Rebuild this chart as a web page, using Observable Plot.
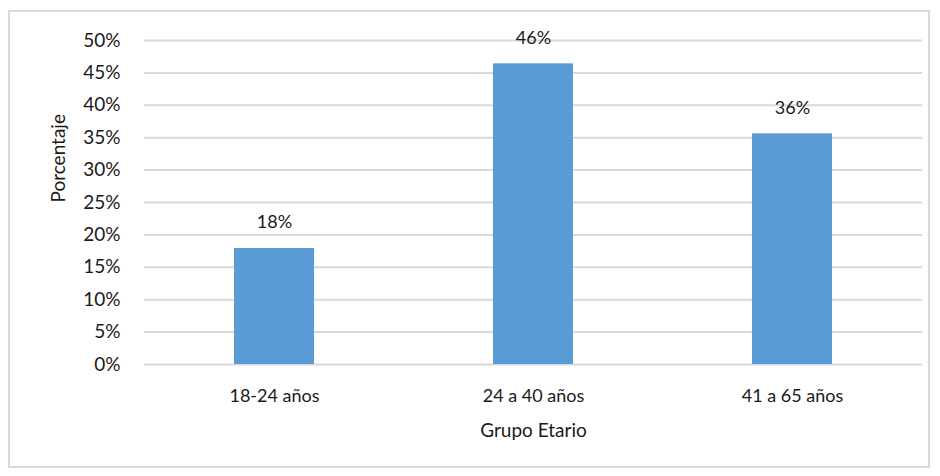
<!DOCTYPE html>
<html>
<head>
<meta charset="utf-8">
<script src="https://cdn.jsdelivr.net/npm/d3@7"></script>
<script src="https://cdn.jsdelivr.net/npm/@observablehq/plot@0.6"></script>
<style>
  html, body { margin: 0; padding: 0; background: #fff; }
  #wrap { position: relative; width: 940px; height: 476px; }
  #border { position: absolute; left: 8px; top: 10px; width: 922px; height: 458px; border: 2px solid #d9d9d9; box-sizing: border-box; pointer-events: none; }
  svg { display: block; }
</style>
</head>
<body>
<div id="wrap"><div id="border"></div><div id="chart"></div></div>
<script>
const categories = ["18-24 años", "24 a 40 años", "41 a 65 años"];
const values = [17.9, 46.4, 35.6];
const valueLabels = ["18%", "46%", "36%"];
const yTicks = [0, 5, 10, 15, 20, 25, 30, 35, 40, 45, 50];
const xTitle = "Grupo Etario";
const yTitle = "Porcentaje";

const data = categories.map((c, i) => ({cat: c, v: values[i], lab: valueLabels[i]}));

const chart = Plot.plot({
  width: 940,
  height: 476,
  marginLeft: 144,
  marginRight: 18,
  marginTop: 40,
  marginBottom: 112,
  style: {fontFamily: "Lato, sans-serif", fontSize: "18px", color: "#1a1a1a", background: "transparent"},
  x: {domain: categories, paddingInner: 0.69, paddingOuter: 0.345, label: null},
  y: {domain: [0, 50], label: null},
  marks: [
    Plot.gridY(yTicks, {stroke: "#d9d9d9", strokeWidth: 2, strokeOpacity: 1}),
    Plot.barY(data, {x: "cat", y: "v", fill: "#5b9bd5"}),
    Plot.text(data, {x: "cat", y: "v", text: "lab", dy: -26, fontSize: 18, fill: "#1a1a1a"}),
    Plot.axisY(yTicks, {tickSize: 0, tickPadding: 24, tickFormat: d => d + "%", label: null, fontSize: 19}),
    Plot.axisX({tickSize: 0, tickPadding: 25, label: null, fontSize: 18}),
    Plot.text([yTitle], {frameAnchor: "left", rotate: -90, dx: -86, fontSize: 19, fill: "#1a1a1a"}),
    Plot.text([xTitle], {frameAnchor: "bottom", dy: 72, fontSize: 19, fill: "#1a1a1a"})
  ]
});
document.getElementById("chart").appendChild(chart);
</script>
</body>
</html>
